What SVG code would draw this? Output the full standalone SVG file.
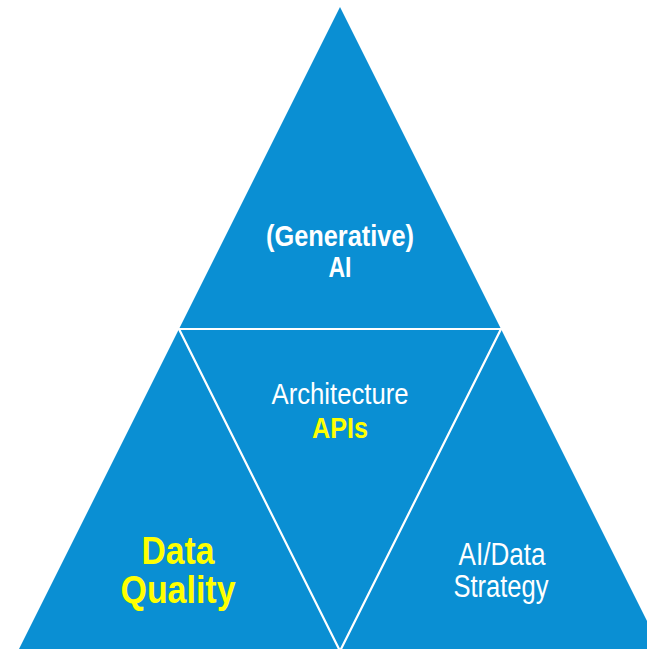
<svg xmlns="http://www.w3.org/2000/svg" width="647" height="649" viewBox="0 0 647 649">
  <style>
    .seg { fill: #0A8FD3; }
    .edge { stroke: #FFFFFF; stroke-width: 2.2; fill: none; stroke-linecap: round; }
    text { font-family: "Liberation Sans", Arial, sans-serif; text-anchor: middle; }
    .w { fill: #FFFFFF; }
    .y { fill: #FFFF00; }
    .b { font-weight: bold; }
  </style>
  <rect width="647" height="649" fill="#FFFFFF"/>
  <g id="top-ai">
    <polygon class="seg" points="340,7 501,329 179,329"/>
    <text class="w b" x="340" y="246" font-size="30" textLength="148" lengthAdjust="spacingAndGlyphs">(Generative)</text>
    <text class="w b" x="340" y="277" font-size="30" textLength="23" lengthAdjust="spacingAndGlyphs">AI</text>
  </g>
  <g id="center-architecture">
    <polygon class="seg" points="179,329 501,329 340,651"/>
    <text class="w" x="340" y="404" font-size="29" textLength="137" lengthAdjust="spacingAndGlyphs">Architecture</text>
    <text class="y b" x="340" y="438" font-size="29" textLength="56" lengthAdjust="spacingAndGlyphs">APIs</text>
  </g>
  <g id="left-data-quality">
    <polygon class="seg" points="179,329 340,651 18,651"/>
    <text class="y b" x="178" y="564" font-size="38" textLength="73" lengthAdjust="spacingAndGlyphs">Data</text>
    <text class="y b" x="178" y="603" font-size="38" textLength="115" lengthAdjust="spacingAndGlyphs">Quality</text>
  </g>
  <g id="right-strategy">
    <polygon class="seg" points="501,329 662,651 340,651"/>
    <text class="w" x="502" y="565" font-size="31" textLength="87" lengthAdjust="spacingAndGlyphs">AI/Data</text>
    <text class="w" x="501" y="597" font-size="31" textLength="95" lengthAdjust="spacingAndGlyphs">Strategy</text>
  </g>
  <g id="connectors">
    <path class="edge" d="M179,329 L501,329 L340,651 Z"/>
  </g>
</svg>
